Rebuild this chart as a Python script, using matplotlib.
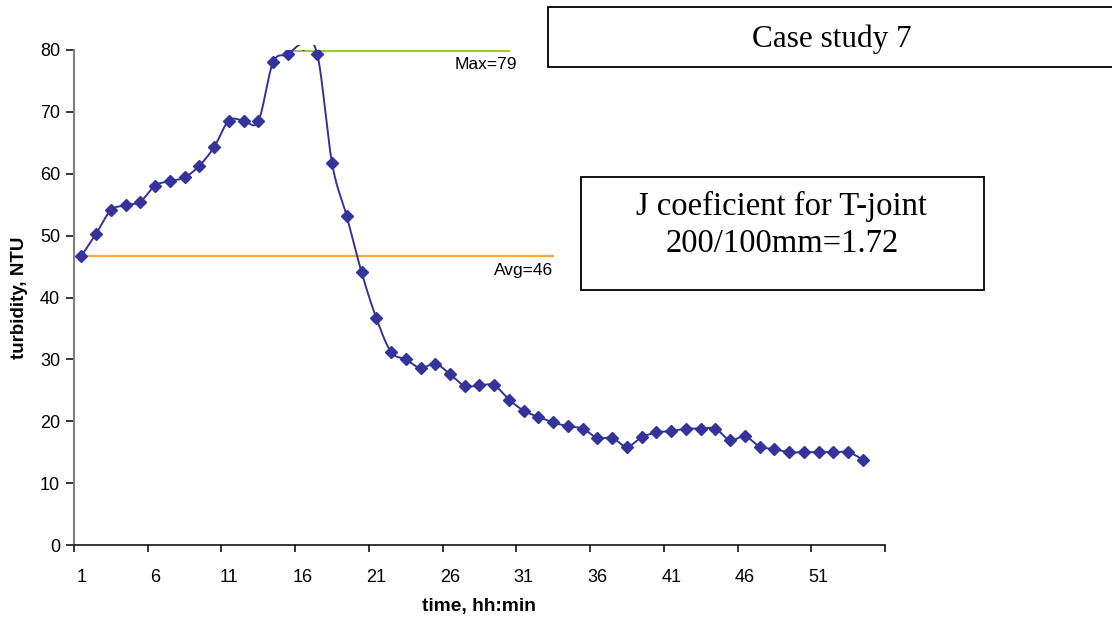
import numpy as np
import matplotlib
matplotlib.use("Agg")
import matplotlib.pyplot as plt
from matplotlib.patches import Rectangle

# turbidity readings, one per time step (categories 1..54)
turbidity = [46.7, 50.3, 54.1, 54.9, 55.5, 58.1, 58.8, 59.4, 61.3, 64.3,
             68.6, 68.6, 68.5, 78.0, 79.3, 81.0, 79.3, 61.7, 53.1, 44.1,
             36.7, 31.2, 30.0, 28.6, 29.3, 27.6, 25.7, 25.8, 25.8, 23.5,
             21.7, 20.7, 19.8, 19.2, 18.8, 17.3, 17.3, 15.9, 17.4, 18.2,
             18.4, 18.8, 18.8, 18.8, 16.9, 17.6, 15.9, 15.5, 15.0, 15.0,
             15.0, 15.0, 15.0, 13.8]
n_categories = 55
tick_labels = [str(i) for i in range(1, n_categories, 5)]

max_value = 79.8
max_span = (15, 30)
avg_value = 46.7
avg_span = (1, 33)

W, H = 1112, 622


def fx(px):
    return px / W


def fy(py):
    return 1 - py / H


def smooth(x, y, n=24):
    # excel-like smoothed line: bezier through points (catmull-rom controls)
    pts = np.column_stack([x, y]).astype(float)
    ext = np.vstack([pts[0], pts, pts[-1]])
    t = np.linspace(0, 1, n)[:, None]
    segs = []
    for i in range(1, len(ext) - 2):
        p0, p1, p2, p3 = ext[i - 1], ext[i], ext[i + 1], ext[i + 2]
        c1 = p1 + (p2 - p0) / 6
        c2 = p2 - (p3 - p1) / 6
        segs.append((1 - t) ** 3 * p1 + 3 * (1 - t) ** 2 * t * c1
                    + 3 * (1 - t) * t ** 2 * c2 + t ** 3 * p2)
    return np.vstack(segs)


plt.rcParams["font.family"] = ["Liberation Sans", "DejaVu Sans"]

fig = plt.figure(figsize=(W / 100, H / 100), dpi=100)
ax = fig.add_axes([fx(74), fy(545), fx(885) - fx(74), fy(50) - fy(545)])

x = np.arange(1, len(turbidity) + 1)
curve = smooth(x, turbidity)
line, = ax.plot(curve[:, 0], curve[:, 1], color="#333399", lw=1.4, zorder=3)
clip = Rectangle((0, 0), 1, 1.01, transform=ax.transAxes)
line.set_clip_path(clip)
ax.plot(x, turbidity, linestyle="none", marker="D", markersize=6,
        color="#333399", zorder=4)

ax.plot(max_span, [max_value, max_value], color="#99CC33", lw=1.5, zorder=2)
ax.plot(avg_span, [avg_value, avg_value], color="#F9A83A", lw=1.6, zorder=2)
ax.text(max_span[1] + 0.55, max_value - 0.9, "Max=79", ha="right", va="top",
        fontsize=12.5)
ax.text(avg_span[1] + 0.0, avg_value - 1.2, "Avg=46", ha="right", va="top",
        fontsize=12.5)

ax.set_xlim(0.5, n_categories + 0.5)
ax.set_ylim(0, 80)
ax.set_yticks(range(0, 81, 10))
ax.set_xticks(range(1, n_categories, 5))
ax.set_xticklabels(tick_labels)
ax.set_xticks(np.arange(0.5, n_categories + 1, 5), minor=True)
ax.tick_params(axis="x", which="major", length=0, pad=17, labelsize=13)
ax.tick_params(axis="x", which="minor", length=5, width=1.1, color="black")
ax.tick_params(axis="y", length=6, width=1.1, pad=4, labelsize=13)

for s in ("top", "right"):
    ax.spines[s].set_visible(False)
ax.spines["left"].set_color("#808080")
ax.spines["left"].set_linewidth(1.5)
ax.spines["bottom"].set_color("black")
ax.spines["bottom"].set_linewidth(1.1)

fig.text(fx(20), fy(298), "turbidity, NTU", rotation=90, ha="center",
         va="center", fontsize=13.5, fontweight="bold")
fig.text(fx(479), fy(606), "time, hh:min", ha="center", va="center",
         fontsize=13.8, fontweight="bold")

# text boxes
fig.add_artist(Rectangle((fx(548), fy(67)), fx(1130) - fx(548),
                         fy(7) - fy(67), transform=fig.transFigure,
                         facecolor="white", edgecolor="black", lw=1.3))
fig.text(fx(832), fy(47), "Case study 7", ha="center", va="baseline",
         fontsize=22.5, family="Liberation Serif")

fig.add_artist(Rectangle((fx(581), fy(290)), fx(984) - fx(581),
                         fy(177) - fy(290), transform=fig.transFigure,
                         facecolor="white", edgecolor="black", lw=1.3))
fig.text(fx(782), fy(215), "J coeficient for T-joint", ha="center",
         va="baseline", fontsize=23.5, family="Liberation Serif")
fig.text(fx(782), fy(252), "200/100mm=1.72", ha="center",
         va="baseline", fontsize=23.5, family="Liberation Serif")

fig.savefig("out.png", dpi=100)
